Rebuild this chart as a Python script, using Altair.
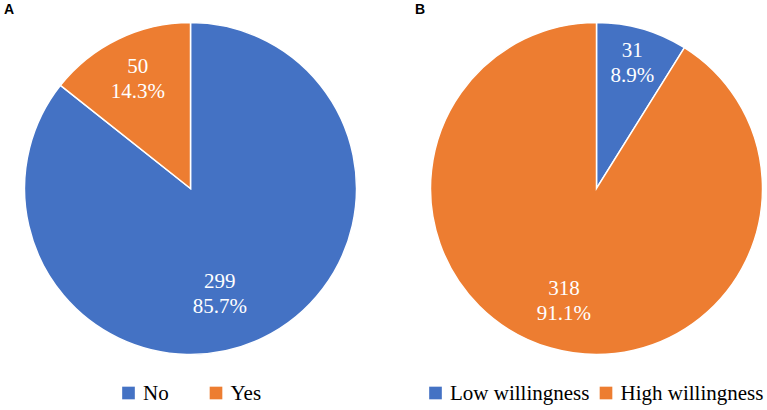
import altair as alt
import pandas as pd

a_categories = ["No", "Yes"]
a_counts = [299, 50]
a_percents = ["85.7%", "14.3%"]

b_categories = ["Low willingness", "High willingness"]
b_counts = [31, 318]
b_percents = ["8.9%", "91.1%"]

slice_colors = ["#4472C4", "#ED7D31"]
SERIF = "'Liberation Serif', 'Times New Roman', Times, serif"
SANS = "'Liberation Sans', Arial, sans-serif"


def panel(cats, counts, pcts, letter, cx, cy, legend_range, letter_x,
          small_r, big_r, big_dx):
    df = pd.DataFrame({
        "cat": cats,
        "count": counts,
        "pct": pcts,
        "order": list(range(len(cats))),
    })
    df["label"] = df["count"].astype(str) + "\n" + df["pct"]
    big = cats[int(pd.Series(counts).idxmax())]

    color = alt.Color(
        "cat:N",
        scale=alt.Scale(domain=cats, range=slice_colors),
        legend=None,
    )

    base = alt.Chart(df).encode(
        theta=alt.Theta("count:Q", stack=True),
        order=alt.Order("order:Q"),
        x=alt.value(cx),
        y=alt.value(cy),
    )
    arcs = base.mark_arc(outerRadius=166, stroke="white", strokeWidth=1.5).encode(
        color=color
    )
    text_style = dict(
        font=SERIF,
        fontSize=21,
        color="white",
        lineBreak="\n",
        lineHeight=25,
        dy=-12.5,
    )
    small_labels = base.mark_text(radius=small_r, **text_style).encode(
        text="label:N", detail="cat:N",
        opacity=alt.condition(alt.datum.cat == big, alt.value(0), alt.value(1)),
    )
    big_labels = base.mark_text(radius=big_r, dx=big_dx, **text_style).encode(
        text="label:N", detail="cat:N",
        opacity=alt.condition(alt.datum.cat == big, alt.value(1), alt.value(0)),
    )

    # legend built from the same categories
    leg_x = alt.X(
        "cat:N",
        scale=alt.Scale(type="point", domain=cats, range=legend_range, padding=0),
        axis=None,
    )
    leg_base = alt.Chart(df).encode(x=leg_x, y=alt.value(393))
    leg_symbols = leg_base.mark_square(size=160, opacity=1).encode(color=color)
    leg_text = leg_base.mark_text(
        font=SERIF, fontSize=21, color="#000000", align="left",
        baseline="middle", dx=14.5, dy=1,
    ).encode(text="cat:N")

    letter_df = pd.DataFrame({"t": [letter]})
    letter_mark = alt.Chart(letter_df).mark_text(
        font=SANS,
        fontWeight="bold",
        fontSize=14,
        align="left",
        baseline="middle",
        color="#000000",
    ).encode(text="t:N", x=alt.value(letter_x), y=alt.value(10))

    return alt.layer(arcs, small_labels, big_labels, leg_symbols, leg_text, letter_mark)


chart_a = panel(a_categories, a_counts, a_percents, "A", 190.5, 188.5,
                [128.5, 216], 4, 121, 118, -22)
chart_b = panel(b_categories, b_counts, b_percents, "B", 596.5, 188.5,
                [435.5, 606], 415, 130, 118, 0)

chart = (
    alt.layer(chart_a, chart_b)
    .resolve_scale(color="independent", theta="independent", x="independent")
    .properties(width=767, height=410, padding=0, autosize=alt.AutoSizeParams(type="none"))
    .configure_view(stroke=None)
)

chart.save("out.html", embed_options={"renderer": "svg", "actions": False})
